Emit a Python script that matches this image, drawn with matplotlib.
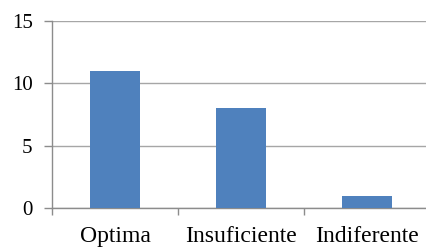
import matplotlib
matplotlib.use('Agg')
import matplotlib.pyplot as plt
import numpy as np

# data
categories = ['Optima', 'Insuficiente', 'Indiferente']
values = [11, 8, 1]
y_ticks = [0, 5, 10, 15]

plt.rcParams['font.family'] = ['Liberation Serif', 'DejaVu Serif']

fig = plt.figure(figsize=(4.26, 2.48), dpi=100)
# plot area runs a little past the right edge, like the original
ax = fig.add_axes([52 / 426, 39.7 / 248, 378 / 426, 187.6 / 248])

x = np.arange(len(categories))
ax.bar(x, values, width=0.4, color='#4F81BD', zorder=3)

ax.set_xlim(-0.5, len(categories) - 0.5)
ax.set_ylim(0, 15)
ax.set_yticks(y_ticks)
ax.set_xticks(x)
ax.set_xticklabels(categories)
ax.set_xticks(np.arange(len(categories) + 1) - 0.5, minor=True)

ax.grid(axis='y', color='#A6A6A6', linewidth=1.0, zorder=0)
for side in ['top', 'right']:
    ax.spines[side].set_visible(False)
for side in ['left', 'bottom']:
    ax.spines[side].set_color('#8C8C8C')
    ax.spines[side].set_linewidth(1.0)

ax.tick_params(axis='y', length=6, width=1, color='#8C8C8C', pad=8, labelsize=15)
ax.tick_params(axis='x', which='major', length=0, pad=12.5, labelsize=17)
ax.tick_params(axis='x', which='minor', length=5, width=1, color='#8C8C8C')

fig.savefig('out.png', dpi=100)
